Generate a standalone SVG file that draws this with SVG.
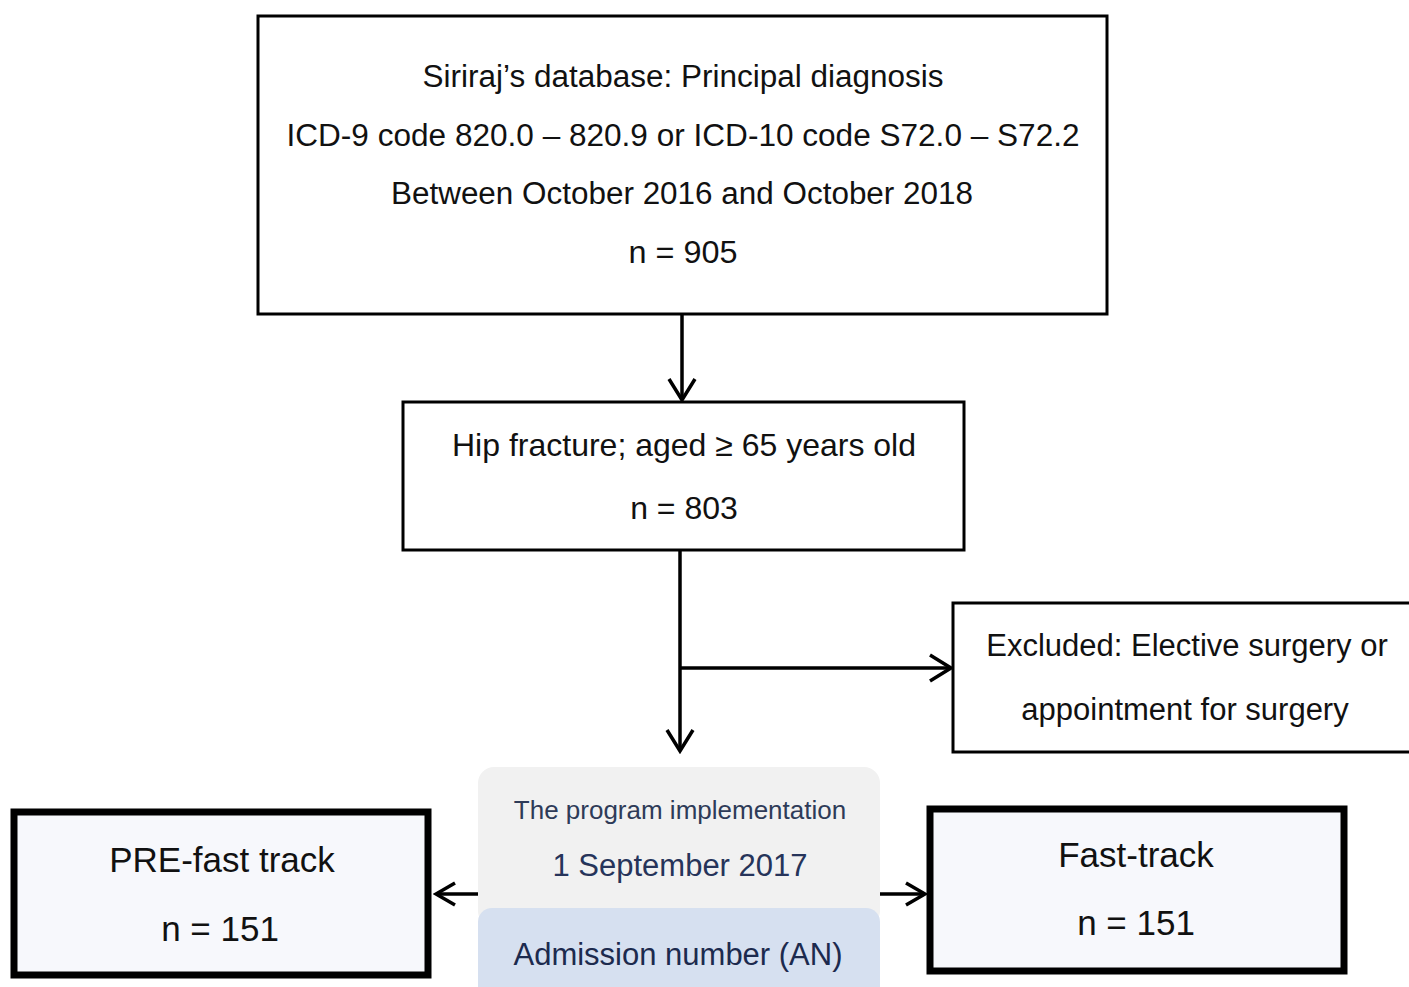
<svg xmlns="http://www.w3.org/2000/svg" width="1409" height="987" viewBox="0 0 1409 987">
<defs>
<marker id="arr" viewBox="0 0 30 30" refX="27" refY="15" markerWidth="30" markerHeight="30" markerUnits="userSpaceOnUse" orient="auto">
<path d="M6,2 L27,15 L6,28" fill="none" stroke="#000" stroke-width="3.5"/>
</marker>
<marker id="arrS" viewBox="0 0 30 30" refX="27" refY="15" markerWidth="30" markerHeight="30" markerUnits="userSpaceOnUse" orient="auto">
<path d="M8,4 L27,15 L8,26" fill="none" stroke="#000" stroke-width="3.5"/>
</marker>
</defs>
<style>
.t{font-family:"Liberation Sans",Arial,sans-serif;fill:#111;text-anchor:middle}
.box{fill:#fff;stroke:#000;stroke-width:3}
.thick{fill:#f7f8fc;stroke:#000;stroke-width:7}
.ln{fill:none;stroke:#000;stroke-width:3.5}
</style>
<rect width="1409" height="987" fill="#fff"/>
<g id="top">
<rect class="box" x="258" y="16" width="849" height="298"/>
<text class="t" x="683" y="87" font-size="31" textLength="521" lengthAdjust="spacingAndGlyphs">Siriraj’s database: Principal diagnosis</text>
<text class="t" x="683" y="146" font-size="31" textLength="793" lengthAdjust="spacingAndGlyphs">ICD-9 code 820.0 – 820.9 or ICD-10 code S72.0 – S72.2</text>
<text class="t" x="682" y="204" font-size="31" textLength="582" lengthAdjust="spacingAndGlyphs">Between October 2016 and October 2018</text>
<text class="t" x="683" y="263" font-size="31" textLength="109" lengthAdjust="spacingAndGlyphs">n = 905</text>
</g>
<g id="hip">
<rect class="box" x="403" y="402" width="561" height="148"/>
<text class="t" x="684" y="456" font-size="32">Hip fracture; aged ≥ 65 years old</text>
<text class="t" x="684" y="519" font-size="32">n = 803</text>
</g>
<g id="excluded">
<rect class="box" x="953" y="603" width="470" height="149"/>
<text class="t" x="1187" y="656" font-size="31">Excluded: Elective surgery or</text>
<text class="t" x="1185" y="720" font-size="31">appointment for surgery</text>
</g>
<g id="program">
<rect x="478" y="767" width="402" height="160" rx="16" fill="#f1f1f1"/>
<rect x="478" y="908" width="402" height="100" rx="14" fill="#d6e0f0"/>
<text class="t" x="680" y="819" font-size="26" style="fill:#2e3b58">The program implementation</text>
<text class="t" x="680" y="876" font-size="31" style="fill:#26345a">1 September 2017</text>
<text class="t" x="678" y="965" font-size="31" style="fill:#1c2a4e">Admission number (AN)</text>
</g>
<g id="pre">
<rect class="thick" x="14" y="812" width="414" height="163"/>
<text class="t" x="222" y="872" font-size="35">PRE-fast track</text>
<text class="t" x="220" y="941" font-size="35">n = 151</text>
</g>
<g id="fast">
<rect class="thick" x="930" y="809" width="414" height="162"/>
<text class="t" x="1136" y="867" font-size="35">Fast-track</text>
<text class="t" x="1136" y="935" font-size="35">n = 151</text>
</g>
<g id="connectors">
<line class="ln" x1="682" y1="314" x2="682" y2="400" marker-end="url(#arr)"/>
<line class="ln" x1="680" y1="550" x2="680" y2="751" marker-end="url(#arr)"/>
<line class="ln" x1="680" y1="668" x2="951" y2="668" marker-end="url(#arr)"/>
<line class="ln" x1="478" y1="894" x2="436" y2="894" marker-end="url(#arrS)"/>
<line class="ln" x1="880" y1="894" x2="925" y2="894" marker-end="url(#arrS)"/>
</g>
</svg>
